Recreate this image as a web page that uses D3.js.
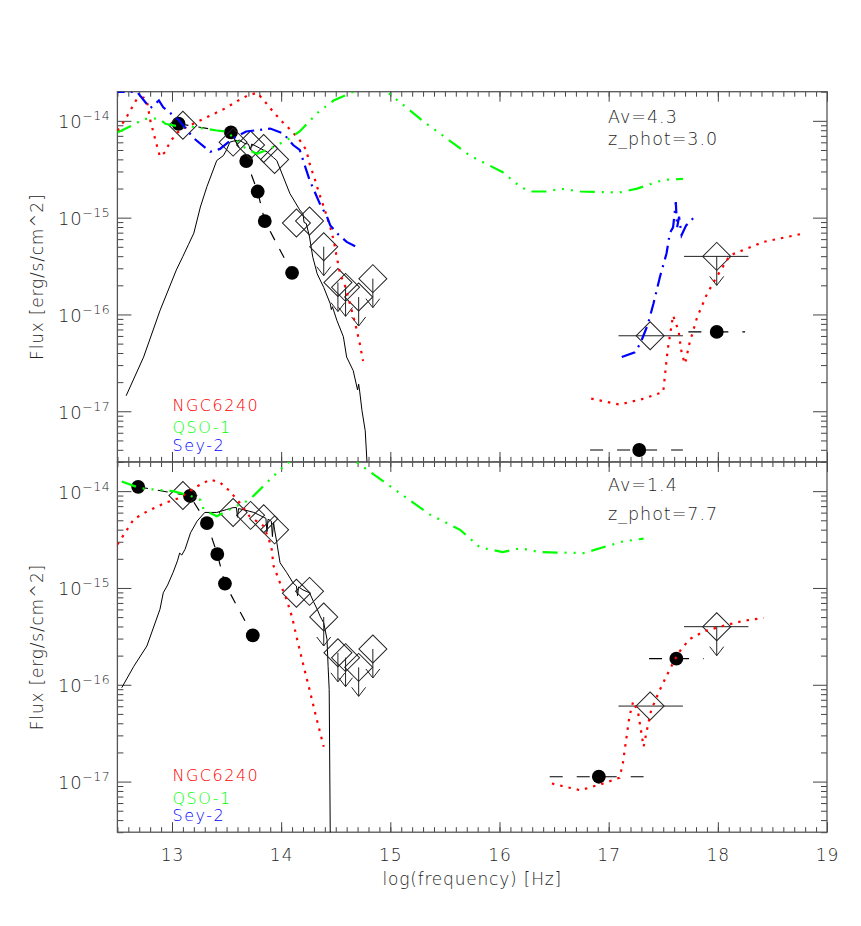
<!DOCTYPE html>
<html>
<head>
<meta charset="utf-8">
<script src="https://cdn.jsdelivr.net/npm/d3@7"></script>
<style>
  body { margin: 0; background: #fff; }
  svg text { font-family: "DejaVu Sans", sans-serif; font-weight: 200; fill: #1e1e1e; }
</style>
</head>
<body>
<svg width="861" height="926"></svg>
<script>
// all points are [log10(frequency), log10(flux)]
const xTicks = [13, 14, 15, 16, 17, 18, 19];
const yTicks = [-14, -15, -16, -17];
const legendNames = ['NGC6240', 'QSO-1', 'Sey-2'];
const legendColors = ['#ff0000', '#00ff00', '#0000ff'];

// observed photometry, same in both panels (true = upper limit)
const obsDiamonds = [
  [13.10, -14.045], [13.56, -14.22], [13.72, -14.25], [13.84, -14.285], [13.94, -14.40],
  [14.14, -15.055], [14.26, -15.035], [14.39, -15.30], [14.52, -15.67], [14.59, -15.72],
  [14.71, -15.82], [14.84, -15.63]
];
const obsLimits = [false, false, false, false, false, false, false, true, true, true, true, true];
// x-ray diamonds: [nu, flux, nuLow, nuHigh, upper limit]
const obsXray = [[17.38, -16.22, 17.09, 17.68, false], [17.99, -15.40, 17.69, 18.28, true]];

// ---- top panel: Av=4.3, z_phot=3.0
const topTemplate = [
  [12.58, -16.84], [12.74, -16.44], [12.89, -15.96], [13.04, -15.54], [13.10, -15.40], [13.15, -15.28],
  [13.20, -15.16], [13.26, -14.89], [13.32, -14.68], [13.41, -14.41], [13.47, -14.36], [13.50, -14.30],
  [13.53, -14.22], [13.56, -14.21], [13.62, -14.20], [13.66, -14.23], [13.70, -14.24], [13.72, -14.30],
  [13.73, -14.24], [13.75, -14.25], [13.80, -14.28], [13.87, -14.32], [13.93, -14.38], [13.96, -14.41],
  [14.02, -14.58], [14.08, -14.75], [14.17, -14.92], [14.20, -14.96], [14.21, -15.05], [14.23, -15.06],
  [14.26, -15.20], [14.29, -15.41], [14.30, -15.45], [14.33, -15.58], [14.39, -15.72], [14.45, -15.89],
  [14.46, -15.95], [14.47, -15.92], [14.51, -16.06], [14.57, -16.23], [14.60, -16.44], [14.66, -16.58],
  [14.70, -16.78], [14.71, -16.72], [14.72, -16.80], [14.74, -16.99], [14.77, -17.20], [14.78, -17.40],
  [14.79, -17.60]
];
const topNgc = [
  [12.50, -14.10], [12.57, -13.99], [12.63, -13.87], [12.68, -13.77], [12.74, -13.76], [12.77, -13.79],
  [12.80, -13.99], [12.86, -14.25], [12.89, -14.37], [12.94, -14.32], [12.98, -14.22], [13.05, -14.12],
  [13.14, -14.06], [13.25, -14.00], [13.38, -13.93], [13.49, -13.87], [13.59, -13.80], [13.69, -13.74],
  [13.78, -13.71], [13.85, -13.80], [13.93, -13.91], [14.01, -14.01], [14.10, -14.11], [14.17, -14.20],
  [14.23, -14.30], [14.26, -14.44], [14.31, -14.61], [14.36, -14.79], [14.40, -14.92], [14.45, -15.10],
  [14.48, -15.23], [14.51, -15.41], [14.54, -15.58], [14.59, -15.72], [14.63, -15.89], [14.68, -16.10],
  [14.72, -16.30], [14.75, -16.48]
];
const topNgcX = [
  [16.84, -16.87], [17.10, -16.93], [17.32, -16.87], [17.50, -16.80], [17.52, -16.58], [17.54, -16.37],
  [17.59, -16.01], [17.64, -16.17], [17.67, -16.41], [17.70, -16.51], [17.74, -16.30], [17.81, -16.03],
  [17.90, -15.79], [17.99, -15.61], [18.11, -15.39], [18.42, -15.25], [18.80, -15.16]
];
const topQso = [
  [12.50, -14.12], [12.65, -14.04], [12.74, -13.98], [12.88, -13.975], [12.94, -14.03], [13.07, -14.06],
  [13.18, -14.06], [13.41, -14.10], [13.50, -14.11], [13.68, -14.29], [13.78, -14.34], [13.93, -14.27],
  [14.05, -14.20], [14.17, -14.11], [14.33, -13.92], [14.48, -13.79], [14.66, -13.70], [14.82, -13.55],
  [14.97, -13.70], [15.33, -14.03], [15.37, -14.06], [15.73, -14.36], [16.03, -14.53], [16.19, -14.68],
  [16.28, -14.73], [16.45, -14.73], [16.55, -14.70], [16.74, -14.73], [17.10, -14.74], [17.26, -14.70],
  [17.50, -14.61], [17.68, -14.60]
];
const topSey = [
  [12.50, -13.62], [12.51, -13.70], [12.68, -13.70], [12.80, -13.87], [12.88, -13.79], [12.92, -13.86],
  [13.06, -13.99], [13.20, -14.18], [13.35, -14.32], [13.44, -14.29], [13.56, -14.18], [13.68, -14.11],
  [13.90, -14.08], [14.02, -14.13], [14.11, -14.25], [14.17, -14.30], [14.26, -14.61], [14.36, -14.87],
  [14.42, -14.99], [14.45, -15.08], [14.51, -15.16], [14.60, -15.25], [14.72, -15.32]
];
const topSeyX = [
  [17.12, -16.44], [17.24, -16.39], [17.29, -16.30], [17.36, -16.10], [17.41, -15.89], [17.47, -15.61],
  [17.53, -15.37], [17.56, -15.16], [17.59, -15.10], [17.615, -14.84], [17.627, -15.10], [17.645, -14.99],
  [17.668, -15.18], [17.71, -15.08], [17.80, -14.975]
];
const topCircles = [[13.06, -14.03], [13.54, -14.12], [13.68, -14.415], [13.785, -14.73], [13.85, -15.035], [14.10, -15.57]];
// x-ray circles: [nu, flux, nuLow, nuHigh]
const topCirclesX = [[17.28, -17.40, 16.83, 17.68], [17.99, -16.18, 17.73, 18.25]];

// ---- bottom panel: Av=1.4, z_phot=7.7
const botTemplate = [
  [12.54, -16.03], [12.65, -15.81], [12.77, -15.60], [12.89, -15.22], [12.92, -15.05], [12.96, -14.97],
  [13.01, -14.84], [13.05, -14.72], [13.07, -14.64], [13.09, -14.66], [13.12, -14.60], [13.17, -14.43],
  [13.23, -14.31], [13.30, -14.22], [13.41, -14.22], [13.50, -14.19], [13.56, -14.17], [13.59, -14.17],
  [13.60, -14.27], [13.61, -14.18], [13.65, -14.19], [13.75, -14.22], [13.84, -14.27], [13.86, -14.28],
  [13.87, -14.42], [13.88, -14.29], [13.91, -14.31], [13.92, -14.47], [13.93, -14.32], [13.94, -14.40],
  [13.96, -14.53], [13.99, -14.74], [14.05, -14.84], [14.11, -14.95], [14.14, -14.98], [14.15, -15.08],
  [14.16, -14.99], [14.20, -15.02], [14.26, -15.05], [14.30, -15.15], [14.33, -15.22], [14.36, -15.30],
  [14.39, -15.36], [14.42, -15.53], [14.43, -15.81], [14.44, -16.05], [14.45, -17.60]
];
const botNgc = [
  [12.50, -14.55], [12.57, -14.43], [12.65, -14.29], [12.77, -14.21], [12.94, -14.12], [13.07, -14.07],
  [13.23, -13.95], [13.35, -13.88], [13.44, -13.91], [13.53, -14.00], [13.62, -14.12], [13.71, -14.26],
  [13.84, -14.36], [13.91, -14.57], [13.93, -14.77], [13.99, -14.95], [14.05, -15.12], [14.10, -15.30],
  [14.14, -15.50], [14.20, -15.78], [14.26, -16.05], [14.32, -16.33], [14.39, -16.64]
];
const botNgcX = [
  [16.48, -17.02], [16.74, -17.09], [16.95, -17.02], [17.10, -16.96], [17.13, -16.81], [17.16, -16.57],
  [17.19, -16.33], [17.225, -16.17], [17.27, -16.29], [17.32, -16.64], [17.35, -16.47], [17.39, -16.26],
  [17.47, -16.05], [17.56, -15.84], [17.64, -15.67], [17.74, -15.53], [17.87, -15.45], [18.02, -15.40],
  [18.23, -15.34], [18.42, -15.31]
];
const botQso = [
  [12.54, -13.90], [12.71, -13.97], [12.90, -13.99], [13.01, -14.00], [13.17, -14.05], [13.26, -14.09],
  [13.29, -14.19], [13.41, -14.26], [13.56, -14.17], [13.71, -14.09], [13.87, -13.91], [13.99, -13.78],
  [14.08, -13.69], [14.38, -13.50], [14.69, -13.70], [15.36, -14.24], [15.64, -14.40], [15.82, -14.58],
  [16.03, -14.63], [16.19, -14.59], [16.37, -14.63], [16.77, -14.64], [16.95, -14.58], [17.13, -14.52],
  [17.32, -14.49]
];
const botCircles = [[12.69, -13.955], [13.165, -14.05], [13.32, -14.33], [13.415, -14.65], [13.485, -14.955], [13.74, -15.49]];
const botCirclesX = [[16.91, -16.95, 16.46, 17.32], [17.62, -15.73, 17.37, 17.87]];

const svg = d3.select('svg');
const margin = { left: 117.4, right: 34 };
const width = +svg.attr('width');
const panelH = 370.2;
const panelTops = [91.7, 462];

const x = d3.scaleLinear().domain([12.5, 19]).range([margin.left, width - margin.right]);
const xMinor = d3.range(125, 191).map(i => i / 10);
const yMinor = [];
[-18, -17, -16, -15, -14].forEach(e => d3.range(2, 10).forEach(m => yMinor.push(m * 10 ** e)));

const drawPanel = (selection, props) => {
  const { top, template, ngc, ngcX, qso, sey, seyX, circles, circlesX, av, zphot, showX, id } = props;
  const bottom = top + panelH;
  const y = d3.scaleLog().domain([3e-18, 2e-14]).range([bottom, top]);
  const yMin = yMinor.filter(v => v >= 3e-18 && v <= 2e-14);
  const fy = v => y(10 ** v);
  const line = d3.line().x(d => x(d[0])).y(d => fy(d[1]));

  const g = selection.append('g');
  g.append('clipPath').attr('id', id)
    .append('rect')
    .attr('x', x(12.5)).attr('y', top)
    .attr('width', x(19) - x(12.5)).attr('height', panelH);

  // ticks
  const tickG = g.append('g').attr('color', '#444').attr('stroke-width', 1);
  const addAxis = (axis, transform) => {
    tickG.append('g').attr('transform', transform).call(axis)
      .call(s => s.select('.domain').remove());
  };
  addAxis(d3.axisTop(x).tickValues(xMinor).tickSize(-5).tickFormat(''), `translate(0,${top})`);
  addAxis(d3.axisTop(x).tickValues(xTicks).tickSize(-10).tickFormat(''), `translate(0,${top})`);
  addAxis(d3.axisBottom(x).tickValues(xMinor).tickSize(-5).tickFormat(''), `translate(0,${bottom})`);
  addAxis(d3.axisLeft(y).tickValues(yMin).tickSize(-6).tickFormat(''), `translate(${x(12.5)},0)`);
  addAxis(d3.axisLeft(y).tickValues(yTicks.map(e => 10 ** e)).tickSize(-14).tickFormat(''), `translate(${x(12.5)},0)`);
  addAxis(d3.axisRight(y).tickValues(yMin).tickSize(-6).tickFormat(''), `translate(${x(19)},0)`);
  addAxis(d3.axisRight(y).tickValues(yTicks.map(e => 10 ** e)).tickSize(-14).tickFormat(''), `translate(${x(19)},0)`);

  const xMajor = d3.axisBottom(x).tickValues(xTicks).tickSize(-10)
    .tickFormat(showX ? d3.format('d') : '');
  tickG.append('g').attr('transform', `translate(0,${bottom})`).call(xMajor)
    .call(s => s.select('.domain').remove())
    .call(s => s.selectAll('text')
      .attr('y', 28.7).attr('dy', null)
      .attr('font-size', 17).attr('letter-spacing', 1).attr('font-family', null));

  // y tick labels 10^n
  const yLab = g.append('g');
  yTicks.forEach(e => {
    const t = yLab.append('text')
      .attr('x', x(12.5) - 7)
      .attr('y', y(10 ** e) + 7.5)
      .attr('text-anchor', 'end')
      .attr('font-size', 18).attr('letter-spacing', 0.6);
    t.append('tspan').text('10');
    t.append('tspan').attr('dy', -8).attr('font-size', 12.5).text('\u2212' + (-e));
  });

  // frame
  g.append('rect')
    .attr('x', x(12.5)).attr('y', top)
    .attr('width', x(19) - x(12.5)).attr('height', panelH)
    .attr('fill', 'none').attr('stroke', '#555').attr('stroke-width', 1.3);

  const plot = g.append('g').attr('clip-path', `url(#${id})`);

  // template fit
  plot.append('path').datum(template)
    .attr('d', line).attr('fill', 'none').attr('stroke', '#000').attr('stroke-width', 1);

  // dashed photometric points
  plot.append('path').datum(circles)
    .attr('d', line).attr('fill', 'none').attr('stroke', '#000')
    .attr('stroke-width', 1.2).attr('stroke-dasharray', '10,10');
  plot.selectAll('.xerr-c').data(circlesX).enter().append('line')
    .attr('x1', d => x(d[2])).attr('x2', d => x(d[3]))
    .attr('y1', d => fy(d[1])).attr('y2', d => fy(d[1]))
    .attr('stroke', '#000').attr('stroke-width', 1.2).attr('stroke-dasharray', '13,14');
  plot.selectAll('.dot').data(circles.concat(circlesX)).enter().append('circle')
    .attr('cx', d => x(d[0])).attr('cy', d => fy(d[1])).attr('r', 6.9).attr('fill', '#000');

  // observed diamonds
  const sym = d3.symbol().type(d3.symbolSquare).size(392);
  const diamonds = obsDiamonds.map((d, i) => [d[0], d[1], obsLimits[i]])
    .concat(obsXray.map(d => [d[0], d[1], d[4]]));
  plot.selectAll('.xerr-d').data(obsXray).enter().append('line')
    .attr('x1', d => x(d[2])).attr('x2', d => x(d[3]))
    .attr('y1', d => fy(d[1])).attr('y2', d => fy(d[1]))
    .attr('stroke', '#222').attr('stroke-width', 1);
  plot.selectAll('.diamond').data(diamonds).enter().append('path')
    .attr('d', sym)
    .attr('transform', d => `translate(${x(d[0])},${fy(d[1])}) rotate(45)`)
    .attr('fill', 'none').attr('stroke', '#222').attr('stroke-width', 1);
  plot.selectAll('.arrow').data(diamonds.filter(d => d[2])).enter().append('path')
    .attr('d', d => {
      const cx = x(d[0]), cy = fy(d[1]);
      return `M${cx},${cy}V${cy + 29}M${cx - 7},${cy + 20}L${cx},${cy + 29}L${cx + 7},${cy + 20}`;
    })
    .attr('fill', 'none').attr('stroke', '#222').attr('stroke-width', 1);

  // comparison templates
  const styled = (data, color, dash) => plot.append('path').datum(data)
    .attr('d', line).attr('fill', 'none').attr('stroke', color)
    .attr('stroke-width', 2.2).attr('stroke-dasharray', dash);
  styled(ngc, legendColors[0], '2.5,6');
  styled(ngcX, legendColors[0], '2.5,6');
  styled(qso, legendColors[1], '15,7,2,7,2,7,2,7');
  if (sey) styled(sey, legendColors[2], '14,6,2,6');
  if (seyX) styled(seyX, legendColors[2], '14,6,2,6');

  // legend
  const legendOffsets = [50.8, 28.7, 11.2];
  legendNames.forEach((name, i) => {
    g.append('text')
      .attr('x', 172.5).attr('y', bottom - legendOffsets[i])
      .attr('font-size', 16).attr('letter-spacing', 1.5)
      .style('fill', legendColors[i])
      .text(name);
  });

  // annotations
  g.append('text').attr('x', 608).attr('y', av[1]).attr('font-size', 17.5)
    .attr('letter-spacing', 1).text(av[0]);
  g.append('text').attr('x', 608).attr('y', zphot[1]).attr('font-size', 17.5)
    .attr('letter-spacing', 1).text(zphot[0]);

  // y axis title
  g.append('text')
    .attr('transform', `translate(43,${top + panelH / 2}) rotate(-90)`)
    .attr('text-anchor', 'middle').attr('font-size', 17).attr('letter-spacing', 0.8)
    .text('Flux [erg/s/cm^2]');
};

svg.call(drawPanel, {
  id: 'clip-top', top: panelTops[0],
  template: topTemplate, ngc: topNgc, ngcX: topNgcX, qso: topQso, sey: topSey, seyX: topSeyX,
  circles: topCircles, circlesX: topCirclesX,
  av: ['Av=4.3', 123.3], zphot: ['z_phot=3.0', 144.5], showX: false
});

svg.call(drawPanel, {
  id: 'clip-bot', top: panelTops[1],
  template: botTemplate, ngc: botNgc, ngcX: botNgcX, qso: botQso, sey: null, seyX: null,
  circles: botCircles, circlesX: botCirclesX,
  av: ['Av=1.4', 490.7], zphot: ['z_phot=7.7', 520], showX: true
});

// x axis title
svg.append('text')
  .attr('x', x(15.75)).attr('y', 884.5)
  .attr('text-anchor', 'middle').attr('font-size', 17).attr('letter-spacing', 0.8)
  .text('log(frequency) [Hz]');
</script>
</body>
</html>
